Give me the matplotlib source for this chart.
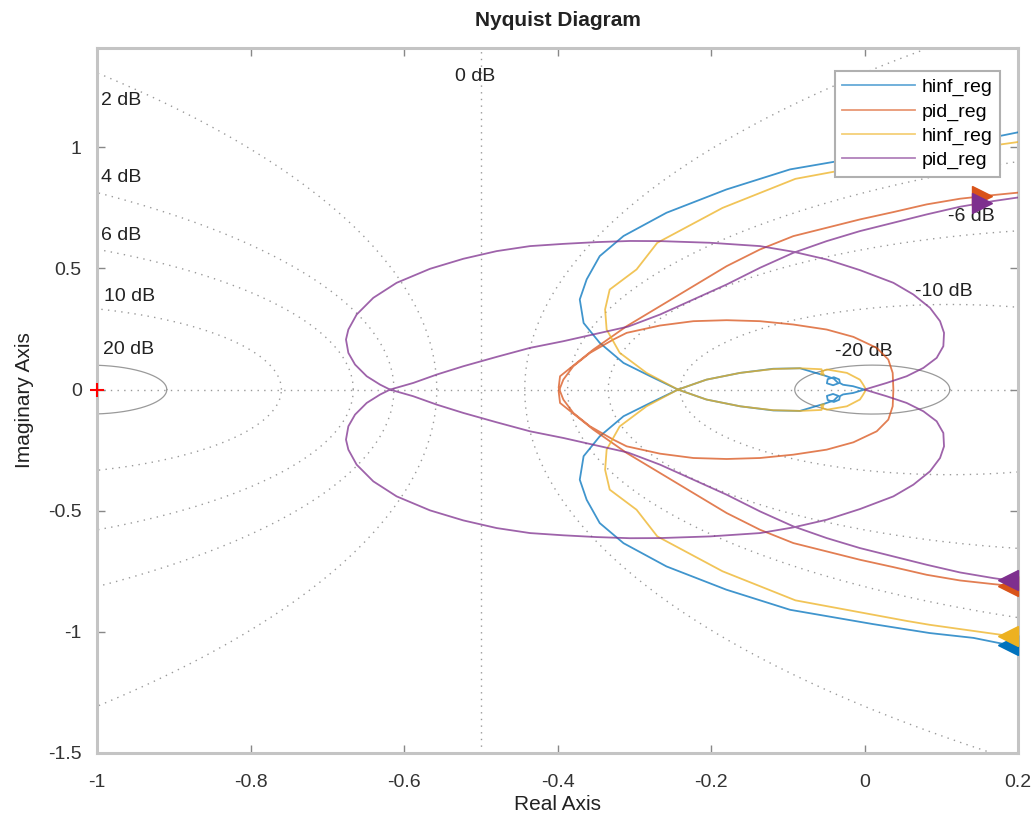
import numpy as np
import matplotlib
matplotlib.use("Agg")
import matplotlib.pyplot as plt

plt.rcParams["font.family"] = ["Liberation Sans", "DejaVu Sans"]
plt.rcParams["axes.unicode_minus"] = False

# ---- Nyquist branches (one half of each curve, starting on the real axis) ----
hinf1_re = [0.0, -0.015, -0.028, -0.032, -0.033, -0.040, -0.048, -0.049, -0.041,
            -0.034, -0.040, -0.052, -0.067, -0.084, -0.119, -0.162, -0.206, -0.243,
            -0.279, -0.314, -0.345, -0.366, -0.371, -0.362, -0.345, -0.314, -0.258,
            -0.180, -0.097, 0.011, 0.085, 0.142, 0.200]
hinf1_im = [0.0, 0.014, 0.020, 0.027, 0.042, 0.051, 0.043, 0.026, 0.018,
            0.026, 0.045, 0.058, 0.072, 0.088, 0.086, 0.069, 0.041, 0.0,
            -0.055, -0.110, -0.193, -0.275, -0.372, -0.455, -0.551, -0.634, -0.730,
            -0.826, -0.909, -0.968, -1.005, -1.025, -1.062]

pid1_re = [0.0376, 0.0367, 0.031, 0.0159, -0.0145, -0.0493, -0.0927, -0.1362,
           -0.1796, -0.223, -0.2664, -0.3099, -0.3273, -0.3577, -0.3794, -0.3924,
           -0.3985, -0.3967, -0.375, -0.3533, -0.3099, -0.2664, -0.223, -0.1796,
           -0.1362, -0.0927, -0.0493, -0.0059, 0.0376, 0.081, 0.1244, 0.1679, 0.200]
pid1_im = [0.0, 0.0689, 0.124, 0.1722, 0.2176, 0.2479, 0.2686, 0.2824,
           0.2865, 0.2824, 0.2645, 0.2342, 0.2066, 0.1515, 0.0964, 0.0413,
           -0.008, -0.0551, -0.1102, -0.1653, -0.2617, -0.3444, -0.427, -0.5096,
           -0.5785, -0.6336, -0.668, -0.7025, -0.7328, -0.7645, -0.7879, -0.803, -0.813]

hinf2_re = [0.002, -0.002, -0.006, -0.023, -0.049, -0.055, -0.057, -0.053, -0.056,
            -0.084, -0.119, -0.162, -0.206, -0.243, -0.284, -0.319,
            -0.336, -0.338, -0.332, -0.297, -0.270, -0.185, -0.090, 0.055, 0.085,
            0.200]
hinf2_im = [0.0, 0.022, 0.041, 0.069, 0.083, 0.076, 0.064, 0.060, 0.084,
            0.088, 0.085, 0.069, 0.041, 0.0, -0.069, -0.152,
            -0.248, -0.331, -0.413, -0.496, -0.606, -0.750, -0.870, -0.955, -0.971,
            -1.022]

pid2_re = [0.0, 0.0289, 0.0549, 0.0767, 0.094, 0.1027, 0.1036, 0.0984, 0.0853,
           0.0636, 0.0376, -0.0059, -0.0493, -0.0927, -0.1362, -0.2013, -0.2664,
           -0.3055, -0.349, -0.3924, -0.4358, -0.4793, -0.5227, -0.5661, -0.6096,
           -0.640, -0.6617, -0.6725, -0.6756, -0.6725, -0.6638, -0.6486, -0.6313,
           -0.6182, -0.5879, -0.5574, -0.5227, -0.4793, -0.4358, -0.3924, -0.350,
           -0.308, -0.2664, -0.223, -0.1796, -0.1362, -0.0927, -0.0493, -0.0059,
           0.0376, 0.081, 0.1244, 0.1679, 0.200]
pid2_im = [0.0, 0.0275, 0.0551, 0.0895, 0.1309, 0.1791, 0.2342, 0.2824, 0.3375,
           0.3926, 0.4408, 0.4931, 0.5372, 0.5689, 0.5923, 0.6061, 0.6129,
           0.6135, 0.6088, 0.6015, 0.5923, 0.5716, 0.540, 0.4986, 0.4408,
           0.3788, 0.3099, 0.2479, 0.2066, 0.1515, 0.1033, 0.0551, 0.0207,
           0.0, -0.0275, -0.062, -0.0964, -0.135, -0.1722, -0.1997, -0.230,
           -0.260, -0.3099, -0.3719, -0.4339, -0.5028, -0.5647, -0.6129, -0.6543,
           -0.6887, -0.7231, -0.7548, -0.7782, -0.793]

series_names = ["hinf_reg", "pid_reg", "hinf_reg", "pid_reg"]
series_re = [hinf1_re, pid1_re, hinf2_re, pid2_re]
series_im = [hinf1_im, pid1_im, hinf2_im, pid2_im]
series_colors = ["#0072BD", "#D95319", "#EDB120", "#7E2F8E"]

# M-circle levels (dB) of the Nyquist grid
grid_db = [-20, -10, -6, -4, -2, 2, 4, 6, 10, 20]
grid_labels = ["-20 dB", "-10 dB", "-6 dB", "-4 dB", None,
               "2 dB", "4 dB", "6 dB", "10 dB", "20 dB"]
label_pos = [(-0.039, 0.157), (0.066, 0.405), (0.109, 0.715), (0.098, 1.0),
             None, (-0.995, 1.194), (-0.995, 0.876), (-0.995, 0.636),
             (-0.991, 0.384), (-0.992, 0.165)]

xticks = [-1, -0.8, -0.6, -0.4, -0.2, 0, 0.2]
xtick_labels = ["-1", "-0.8", "-0.6", "-0.4", "-0.2", "0", "0.2"]
yticks = [-1.5, -1, -0.5, 0, 0.5, 1]
ytick_labels = ["-1.5", "-1", "-0.5", "0", "0.5", "1"]

fig = plt.figure(figsize=(10.33, 8.18), dpi=100)
ax = fig.add_axes([0.0939, 0.0795, 0.8916, 0.8618])
ax.set_xlim(-1, 0.2)
ax.set_ylim(-1.5, 1.41)

grid_color = "#9a9a9a"
text_color = "#222222"
dot = (0, (1.0, 3.8))

# real axis and 0 dB line
ax.axhline(0, color=grid_color, lw=1.0, ls=dot, zorder=1)
ax.axvline(-0.5, color=grid_color, lw=1.0, ls=dot, zorder=1)
ax.text(-0.534, 1.293, "0 dB", fontsize=14, va="center", ha="left", color=text_color)

theta = np.linspace(0, 2 * np.pi, 721)
for db, lab, pos in zip(grid_db, grid_labels, label_pos):
    m = 10 ** (db / 20)
    c = -m ** 2 / (m ** 2 - 1)
    r = abs(m / (m ** 2 - 1))
    small = abs(db) == 20
    ax.plot(c + r * np.cos(theta), r * np.sin(theta), color=grid_color,
            lw=0.9 if small else 1.0, ls="-" if small else dot, zorder=1)
    if lab is not None:
        ax.text(pos[0], pos[1], lab, fontsize=14, va="center", ha="left",
                color=text_color, zorder=2)

# Nyquist curves: branch + mirrored branch
lines = []
for name, re, im, col in zip(series_names, series_re, series_im, series_colors):
    h = np.array(re) + 1j * np.array(im)
    full = np.concatenate([np.conj(h)[::-1], h[1:]])
    ln, = ax.plot(full.real, full.imag, color=col, lw=1.3, alpha=0.75, label=name, zorder=3)
    lines.append(ln)
    # direction arrows near the right edge
    re_a = np.array(re)[-4:]
    im_a = np.array(im)[-4:]
    y_lo = np.interp(0.187, re_a, im_a)
    y_up = -np.interp(0.153, re_a, im_a)
    ax.plot([0.187], [y_lo], marker="<", ms=15, color=col, mec=col, zorder=4, clip_on=False)
    ax.plot([0.153], [y_up], marker=">", ms=15, color=col, mec=col, zorder=4)

# critical point
ax.plot([-1], [0], marker="+", color="red", ms=10, mew=1.5, zorder=5, clip_on=False)

ax.set_xticks(xticks)
ax.set_xticklabels(xtick_labels)
ax.set_yticks(yticks)
ax.set_yticklabels(ytick_labels)
ax.tick_params(direction="in", length=6, width=1.0, color="#888888", labelsize=14,
               labelcolor="#333333", top=True, right=True)
ax.tick_params(axis="x", pad=15)
ax.tick_params(axis="y", pad=11)
for sp in ax.spines.values():
    sp.set_color("#c4c4c4")
    sp.set_linewidth(2.2)

ax.set_xlabel("Real Axis", fontsize=15, color=text_color, labelpad=3)
ax.set_ylabel("Imaginary Axis", fontsize=15, color=text_color, labelpad=10)
ax.set_title("Nyquist Diagram", fontsize=15, fontweight="bold", color=text_color, pad=16)

leg = ax.legend(handles=lines, loc="upper right", bbox_to_anchor=(0.9805, 0.9675),
                fontsize=14, frameon=True, fancybox=False, framealpha=1,
                edgecolor="#b0b0b0", handlelength=3.75, handletextpad=0.35,
                labelspacing=0.34, borderpad=0.38, borderaxespad=0)
leg.get_frame().set_linewidth(1.5)
leg.set_zorder(10)
for lh in leg.get_lines():
    lh.set_alpha(0.6)

fig.savefig("out.png", dpi=100)
